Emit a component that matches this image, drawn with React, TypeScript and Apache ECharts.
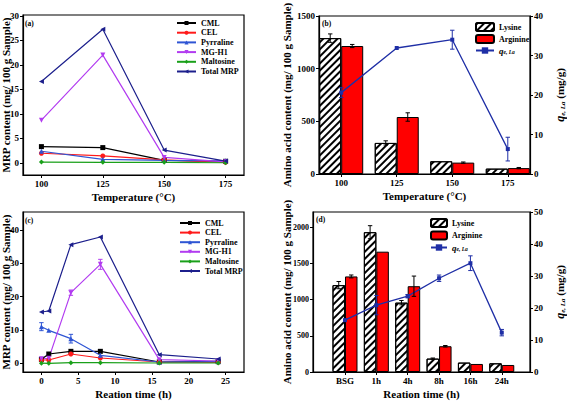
import React, { useEffect, useRef } from 'react';
import * as echarts from 'echarts';

// ---- Data ----
const temps = [100, 125, 150, 175];
const times = [0, 1, 4, 8, 16, 24];
const timeCats = ['BSG', '1h', '4h', '8h', '16h', '24h'];
const timeIdx = [0, 1, 2, 3, 4, 5];

// Panel (a): MRP content vs temperature
const cmlA = [3.3, 3.1, 0.5, 0.3];
const celA = [1.95, 1.4, 0.6, 0.1];
const pyrA = [2.35, 0.7, 0.5, 0.4];
const mgA = [8.7, 22.0, 1.1, 0.2];
const malA = [0.15, 0.1, 0.1, 0.0];
const totA = [16.6, 27.3, 2.6, 0.35];

// Panel (b): amino acids vs temperature
const lysB = [1290, 295, 121, 51];
const lysBErr = [40, 20, 0, 0];
const argB = [1215, 541, 108, 56];
const argBErr = [15, 40, 6, 6];
const qB = [20.6, 31.9, 34.0, 6.3];
const qBErr = [1.25, 0, 2.4, 3.0];

// Panel (c): MRP content vs reaction time
const cmlC = [1.2, 2.8, 3.6, 3.6, 0.4, 0.6];
const celC = [1.0, 1.0, 2.8, 1.6, 0.4, 0.3];
const pyrC = [11.0, 9.9, 7.4, 2.4, 0.4, 0.5];
const pyrCErr = [1.2, 0, 1.3, 0, 0, 0];
const mgC = [1.4, 1.5, 21.2, 29.7, 1.1, 0.7];
const mgCErr = [0, 0, 0.8, 1.5, 0, 0];
const malC = [0.05, 0.0, 0.2, 0.2, 0.1, 0.1];
const totC = [15.4, 15.7, 35.6, 37.9, 2.6, 1.3];

// Panel (d): amino acids vs reaction time
const lysD = [1200, 1931, 958, 185, 130, 120];
const lysDErr = [50, 90, 30, 8, 0, 0];
const argD = [1320, 1662, 1185, 356, 111, 97];
const argDErr = [20, 0, 140, 10, 0, 0];
const qD = [16.2, 20.9, 23.7, 29.3, 34.0, 12.3];
const qDErr = [0, 3.0, 0.5, 1.0, 2.3, 1.0];

// ticks
const ticksA_x = [100, 125, 150, 175];
const ticksA_y = [0, 5, 10, 15, 20, 25, 30];
const ticksB_y = [0, 500, 1000, 1500];
const ticksB_y2 = [0, 10, 20, 30, 40];
const ticksC_x = [0, 5, 10, 15, 20, 25];
const ticksC_y = [0, 10, 20, 30, 40];
const ticksD_y = [0, 500, 1000, 1500, 2000];
const ticksD_y2 = [0, 10, 20, 30, 40, 50];

const SERIF = '"Liberation Serif", "Times New Roman", serif';
const C = {
  CML: '#000000',
  CEL: '#ff1a1a',
  Pyrraline: '#2f55d4',
  'MG-H1': '#b23cf0',
  Maltosine: '#1aa01a',
  'Total MRP': '#1c1f8c',
  q: '#1f2fa6',
};

function axis(extra: any, ticks: number[], fmt?: (v: number) => string, fs = 9) {
  return {
    type: 'value',
    splitLine: { show: false },
    axisLine: { show: true, onZero: false, lineStyle: { color: '#000', width: 1.2 } },
    axisTick: { show: true, inside: false, length: 3, customValues: ticks, lineStyle: { color: '#000', width: 1 } },
    axisLabel: {
      color: '#000', fontFamily: SERIF, fontWeight: 'bold', fontSize: fs, margin: 4,
      customValues: ticks, formatter: fmt || ((v: number) => String(v)),
    },
    nameLocation: 'middle',
    nameMoveOverlap: false,
    nameTextStyle: { color: '#000', fontFamily: SERIF, fontWeight: 'bold', fontSize: 11 },
    ...extra,
  };
}

function errSeries(xi: number, yi: number, xs: number[], ys: number[], es: number[], off: number, color: string) {
  const data = xs.map((x, i) => [x, ys[i], es[i], off]).filter((d) => d[2] > 0);
  return {
    type: 'custom',
    xAxisIndex: xi,
    yAxisIndex: yi,
    z: 6,
    silent: true,
    encode: { x: 0, y: 1 },
    data,
    renderItem: (params: any, api: any) => {
      const x = api.value(0), y = api.value(1), e = api.value(2), o = api.value(3);
      const t = api.coord([x, y + e]);
      const b = api.coord([x, y - e]);
      const cx = t[0] + o;
      const cap = 2.2;
      const st = { stroke: color, lineWidth: 1 };
      return {
        type: 'group',
        children: [
          { type: 'line', shape: { x1: cx, y1: t[1], x2: cx, y2: b[1] }, style: st },
          { type: 'line', shape: { x1: cx - cap, y1: t[1], x2: cx + cap, y2: t[1] }, style: st },
          { type: 'line', shape: { x1: cx - cap, y1: b[1], x2: cx + cap, y2: b[1] }, style: st },
        ],
      };
    },
  };
}

const mrpDefs = [
  { name: 'CML', symbol: 'rect', rot: 0 },
  { name: 'CEL', symbol: 'circle', rot: 0 },
  { name: 'Pyrraline', symbol: 'triangle', rot: 0 },
  { name: 'MG-H1', symbol: 'triangle', rot: 180 },
  { name: 'Maltosine', symbol: 'diamond', rot: 0 },
  { name: 'Total MRP', symbol: 'triangle', rot: 90 },
];

function mrpLines(xi: number, yi: number, xs: number[], arrs: number[][]) {
  return mrpDefs.map((d, k) => ({
    type: 'line',
    name: d.name,
    xAxisIndex: xi,
    yAxisIndex: yi,
    data: xs.map((x, i) => [x, arrs[k][i]]),
    symbol: d.symbol,
    symbolRotate: d.rot,
    symbolSize: 5,
    showSymbol: true,
    color: (C as any)[d.name],
    lineStyle: { width: 1.2, color: (C as any)[d.name] },
    itemStyle: { color: (C as any)[d.name] },
    z: 3,
  }));
}

const hatch = {
  symbol: 'rect',
  symbolSize: 1,
  dashArrayX: [1, 0],
  dashArrayY: [1.5, 2.5],
  rotation: -Math.PI / 4,
  color: '#000',
};

function barPair(xi: number, yi: number, xs: number[], lys: number[], arg: number[], bw: number) {
  return [
    {
      type: 'bar', name: 'Lysine', xAxisIndex: xi, yAxisIndex: yi,
      data: xs.map((x, i) => [x, lys[i]]), barWidth: bw, barGap: '0%',
      itemStyle: { color: '#ffffff', borderColor: '#000', borderWidth: 1, decal: hatch },
      z: 2,
    },
    {
      type: 'bar', name: 'Arginine', xAxisIndex: xi, yAxisIndex: yi,
      data: xs.map((x, i) => [x, arg[i]]), barWidth: bw, barGap: '0%',
      itemStyle: { color: '#ff0000', borderColor: '#000', borderWidth: 1 },
      z: 2,
    },
  ];
}

function qLine(xi: number, yi: number, xs: number[], qs: number[]) {
  return {
    type: 'line', name: 'qeLa', xAxisIndex: xi, yAxisIndex: yi,
    data: xs.map((x, i) => [x, qs[i]]),
    symbol: 'rect', symbolSize: 4, color: C.q,
    lineStyle: { width: 1.3, color: C.q }, itemStyle: { color: C.q }, z: 5,
  };
}

const legendText = {
  color: '#000', fontFamily: SERIF, fontWeight: 'bold', fontSize: 8, lineHeight: 8,
  rich: {
    q: { fontFamily: SERIF, fontStyle: 'italic', fontWeight: 'bold', fontSize: 9, color: '#000' },
    s: { fontFamily: SERIF, fontStyle: 'italic', fontWeight: 'bold', fontSize: 5.5, color: '#000', verticalAlign: 'bottom', padding: [4, 0, 0, 0] },
  },
};
const legendFmt = (n: string) => (n === 'qeLa' ? '{q|q}{s|e, La}' : n);

const qName = '{q|q}{s|e, La} {n|(mg/g)}';
const qNameStyle = {
  color: '#000', fontFamily: SERIF, fontWeight: 'bold', fontSize: 11,
  rich: {
    q: { fontFamily: SERIF, fontStyle: 'italic', fontWeight: 'bold', fontSize: 12, color: '#000' },
    s: { fontFamily: SERIF, fontStyle: 'italic', fontWeight: 'bold', fontSize: 7, color: '#000', verticalAlign: 'bottom', padding: [5, 0, 0, 0] },
    n: { fontFamily: SERIF, fontWeight: 'bold', fontSize: 11, color: '#000' },
  },
};

const gridBase = { show: true, borderColor: '#000', borderWidth: 1.2, backgroundColor: 'transparent', containLabel: false, outerBoundsMode: 'none' };

function panelLabel(text: string, x: number, y: number) {
  return {
    type: 'text', x, y,
    style: { text, fontFamily: SERIF, fontWeight: 'bold', fontSize: 7.5, fill: '#000' },
    z: 20,
  };
}

export default function App() {
  const ref = useRef<HTMLDivElement>(null);
  useEffect(() => {
    document.body.style.margin = '0';
    const chart = echarts.init(ref.current!, null, { renderer: 'svg' });
    const option: any = {
      animation: false,
      backgroundColor: '#ffffff',
      grid: [
        { ...gridBase, left: 23, top: 15, width: 221, height: 160 },
        { ...gridBase, left: 319, top: 16, width: 211, height: 158 },
        { ...gridBase, left: 23, top: 212, width: 221, height: 160 },
        { ...gridBase, left: 313, top: 212, width: 217, height: 160 },
      ],
      xAxis: [
        axis({ gridIndex: 0, min: 92.5, max: 182.5, name: 'Temperature (°C)', nameGap: 16 }, ticksA_x),
        axis({ gridIndex: 1, min: 90, max: 185, name: 'Temperature (°C)', nameGap: 16 }, ticksA_x),
        axis({ gridIndex: 2, min: -2.5, max: 27.5, name: 'Reation time (h)', nameGap: 16 }, ticksC_x),
        axis({ gridIndex: 3, min: -1.02, max: 5.9, name: 'Reation time (h)', nameGap: 16 }, timeIdx, (v: number) => timeCats[Math.round(v)]),
      ],
      yAxis: [
        axis({ gridIndex: 0, min: -2.5, max: 30.2, name: 'MRP content (mg/ 100 g Sample)', nameGap: 12 }, ticksA_y),
        axis({ gridIndex: 1, min: 0, max: 1500, name: 'Amino acid content (mg/ 100 g Sample)', nameGap: 27 }, ticksB_y),
        axis({ gridIndex: 1, min: 0, max: 40, position: 'right', name: qName, nameGap: 24, nameRotate: 90, nameTextStyle: qNameStyle }, ticksB_y2),
        axis({ gridIndex: 2, min: -2.6, max: 45.4, name: 'MRP content (mg/ 100 g Sample)', nameGap: 12 }, ticksC_y),
        axis({ gridIndex: 3, min: 0, max: 2210, name: 'Amino acid content (mg/ 100 g Sample)', nameGap: 21 }, ticksD_y, undefined, 8),
        axis({ gridIndex: 3, min: 0, max: 50, position: 'right', name: qName, nameGap: 24, nameRotate: 90, nameTextStyle: qNameStyle }, ticksD_y2),
      ],
      legend: [
        {
          orient: 'vertical', left: 176, top: 19, itemWidth: 19, itemHeight: 5, itemGap: 1.7,
          data: mrpDefs.map((d) => d.name), textStyle: legendText, selectedMode: false, padding: 0,
        },
        {
          orient: 'vertical', left: 179, top: 219, itemWidth: 20, itemHeight: 5, itemGap: 1.6,
          data: mrpDefs.map((d) => d.name), textStyle: legendText, selectedMode: false, padding: 0,
        },
        {
          orient: 'vertical', left: 475, top: 22, itemWidth: 18, itemHeight: 8, itemGap: 2,
          data: ['Lysine', 'Arginine', 'qeLa'], textStyle: legendText, formatter: legendFmt, selectedMode: false, padding: 0,
        },
        {
          orient: 'vertical', left: 430, top: 218, itemWidth: 16, itemHeight: 8, itemGap: 2.5,
          data: ['Lysine', 'Arginine', 'qeLa'], textStyle: legendText, formatter: legendFmt, selectedMode: false, padding: 0,
        },
      ],
      graphic: [
        panelLabel('(a)', 25, 19),
        panelLabel('(b)', 322, 19),
        panelLabel('(c)', 25, 216),
        panelLabel('(d)', 316, 215),
      ],
      series: [
        ...mrpLines(0, 0, temps, [cmlA, celA, pyrA, mgA, malA, totA]),
        ...barPair(1, 1, temps, lysB, argB, 22),
        errSeries(1, 1, temps, lysB, lysBErr, -11, '#000'),
        errSeries(1, 1, temps, argB, argBErr, 11, '#000'),
        qLine(1, 2, temps, qB),
        errSeries(1, 2, temps, qB, qBErr, 0, C.q),
        ...mrpLines(2, 3, times, [cmlC, celC, pyrC, mgC, malC, totC]),
        errSeries(2, 3, times, pyrC, pyrCErr, 0, C.Pyrraline),
        errSeries(2, 3, times, mgC, mgCErr, 0, C['MG-H1']),
        ...barPair(3, 4, timeIdx, lysD, argD, 12.5),
        errSeries(3, 4, timeIdx, lysD, lysDErr, -6.25, '#000'),
        errSeries(3, 4, timeIdx, argD, argDErr, 6.25, '#000'),
        qLine(3, 5, timeIdx, qD),
        errSeries(3, 5, timeIdx, qD, qDErr, 0, C.q),
      ],
    };
    chart.setOption(option);
    return () => chart.dispose();
  }, []);
  return <div ref={ref} style={{ width: 567, height: 401 }} />;
}
